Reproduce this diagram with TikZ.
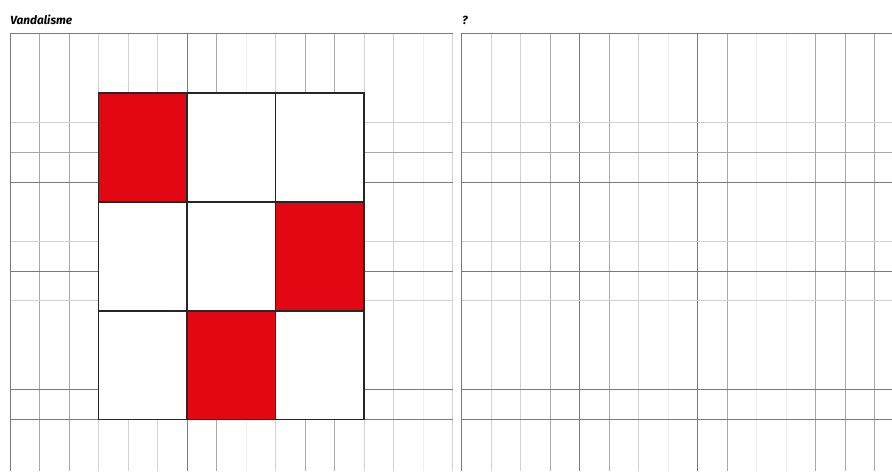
\documentclass[tikz,border=0pt]{standalone}
\usepackage{fontspec}
\setsansfont{Fira Sans}
\usetikzlibrary{positioning}
\definecolor{signal}{RGB}{227,6,19}
\tikzset{
  every picture/.style={font=\sffamily\bfseries\itshape\fontsize{5.9}{7}\selectfont},
  faint/.style={draw=black!6,line width=0.5pt},
  light/.style={draw=black!18,line width=0.5pt},
  mid/.style={draw=black!34,line width=0.5pt},
  dark/.style={draw=black!52,line width=0.5pt},
  cell/.style={draw=black!85,line width=0.8pt},
  title/.style={anchor=base west,inner sep=0pt},
}

\begin{document}
\begin{tikzpicture}[x=14.75pt,y=-14.85pt]
  \useasboundingbox (-0.339,-1.128) rectangle (29.898,14.731);
  % left sheet
  \node[title] (vandal) at (0,-0.32) {Vandalisme};
  \foreach \k/\s in {1/mid,2/mid,3/light,4/light,5/light,6/dark,7/mid,8/faint,
                     9/light,10/mid,11/mid,12/light,13/light,14/faint,15/light}
    \draw[\s] (\k,0) -- (\k,14.731);
  \foreach \k/\s in {3/light,4/mid,5/dark,7/light,8/dark,9/light,12/dark,13/dark}
    \draw[\s] (0,\k) -- (15,\k);
  \draw[dark] (0,14.731) -- (0,0) -- (15,0);
  % the nine squares
  \fill[white] (3,2) rectangle (12,13);
  \fill[signal] (3,2) rectangle ++(3,11/3);
  \fill[signal] (9,{2+11/3}) rectangle ++(3,11/3);
  \fill[signal] (6,{2+22/3}) rectangle ++(3,11/3);
  \foreach \c in {0,1,2}
    \foreach \r in {0,1,2}
      \draw[cell] ({3+3*\c},{2+11/3*\r}) rectangle ++(3,11/3);
  % right sheet
  \begin{scope}[shift={(15.312,0)}]
    \node[title] (query) at (0,-0.32) {?};
    \foreach \k/\s in {1/light,2/light,3/mid,4/dark,5/mid,6/light,7/faint,8/dark,
                       9/mid,10/faint,11/faint,12/mid,13/mid,14/mid}
      \draw[\s] (\k,0) -- (\k,14.731);
    \foreach \k/\s in {3/light,4/mid,5/dark,7/light,8/dark,9/light,12/dark,13/dark}
      \draw[\s] (0,\k) -- (14.586,\k);
    \draw[dark] (0,14.731) -- (0,0) -- (14.586,0);
  \end{scope}
\end{tikzpicture}
\end{document}
